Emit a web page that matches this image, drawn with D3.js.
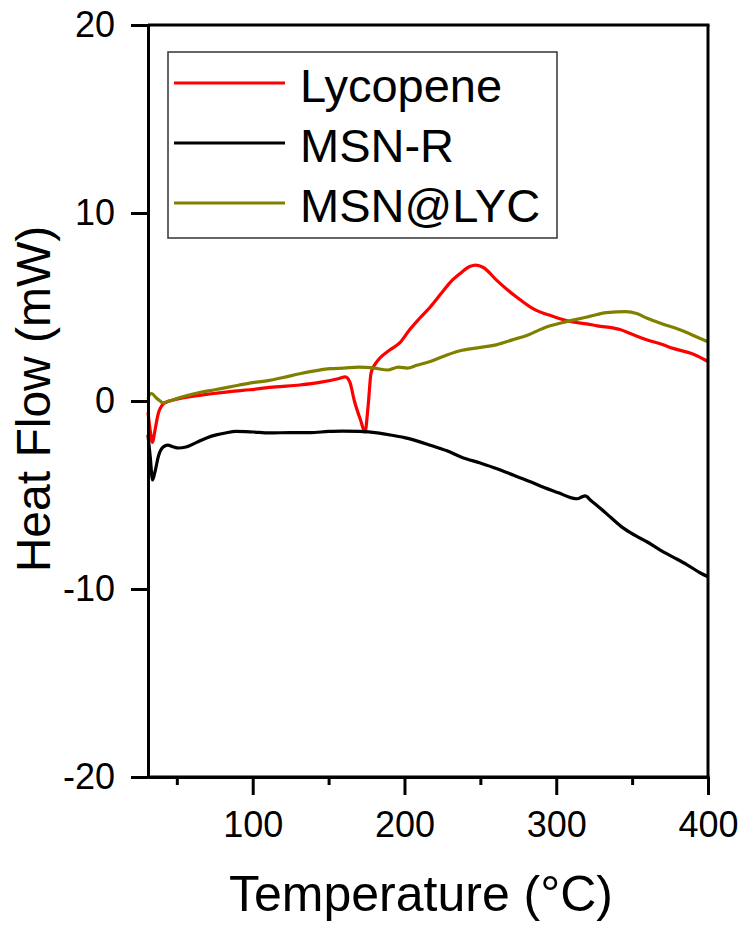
<!DOCTYPE html>
<html>
<head>
<meta charset="utf-8">
<script src="https://cdn.jsdelivr.net/npm/d3@7"></script>
<style>
  html, body { margin: 0; padding: 0; background: #fff; }
  svg { display: block; }
  text { font-family: Arial, "Liberation Sans", sans-serif; fill: #000; }
</style>
</head>
<body>
<svg id="chart" width="745" height="926"></svg>
<script>
// DSC traces: [temperature (°C), heat flow (mW)]
const lycopene = [
  [31,-0.6],[32.5,-1.6],[34,-2.2],[35.5,-1.6],[38,-0.6],[42,-0.1],[50,0.1],[65,0.3],
  [85,0.5],[98,0.6],[115,0.75],[131,0.85],[145,1.0],[157,1.2],[161,1.28],[164,1.0],
  [167,0.0],[171,-1.0],[174,-1.65],[176,-0.3],[178,1.5],[181,2.0],[184,2.3],[190,2.7],
  [197,3.1],[203.5,3.8],[210,4.4],[217,5.0],[224,5.7],[230,6.3],[237,6.8],[243,7.15],
  [247,7.23],[252,7.1],[261,6.4],[268,5.9],[276,5.4],[285,4.9],[298,4.5],[311,4.2],
  [320,4.1],[327,4.0],[342,3.8],[350,3.55],[360,3.25],[370,3.0],[377,2.8],[390,2.5],[400,2.1]
];
const msnR = [
  [31,-1.8],[32.5,-3.0],[34,-4.2],[35.5,-3.8],[38,-2.9],[41,-2.45],[44,-2.35],[48,-2.45],
  [51,-2.5],[56,-2.45],[63,-2.2],[70,-1.95],[76,-1.8],[82,-1.7],[89,-1.62],[100,-1.65],
  [111,-1.7],[125,-1.68],[138,-1.68],[150,-1.62],[159,-1.6],[170,-1.62],[182,-1.7],
  [190,-1.8],[200,-1.95],[217,-2.35],[228,-2.65],[238,-3.0],[250,-3.3],[261,-3.6],
  [272,-3.95],[283,-4.3],[292,-4.6],[302,-4.9],[310,-5.15],[314,-5.2],[317,-5.1],
  [319,-5.05],[323,-5.3],[329,-5.7],[336,-6.2],[344,-6.75],[352,-7.15],[360,-7.5],
  [368,-7.9],[377,-8.3],[386,-8.7],[395,-9.15],[400,-9.35]
];
const msnLyc = [
  [31,0.1],[32,0.35],[33.5,0.4],[36,0.2],[39,0.0],[41,-0.1],[45,0.0],[55,0.25],[65,0.45],
  [75,0.6],[85,0.75],[98,0.95],[111,1.1],[120,1.25],[131,1.45],[141,1.6],[151,1.72],
  [160,1.75],[170,1.8],[180,1.75],[189,1.65],[196,1.8],[202,1.75],[208,1.9],[217,2.1],
  [228,2.45],[238,2.7],[250,2.85],[261,3.0],[271,3.25],[281,3.5],[294,3.95],[303,4.15],
  [311,4.3],[322,4.5],[333,4.7],[346,4.75],[353,4.65],[360,4.4],[370,4.1],[381,3.8],
  [390,3.5],[400,3.15]
];

const seriesNames = ["Lycopene", "MSN-R", "MSN@LYC"];
const seriesColors = ["#ff0000", "#000000", "#808000"];
const seriesData = [lycopene, msnR, msnLyc];

const xDomain = [31, 400];
const yDomain = [-20, 20];
const xMajorTicks = [100, 200, 300, 400];
const xMinorTicks = [50, 150, 250, 350];
const yTicks = [-20, -10, 0, 10, 20];

const xTitle = "Temperature (°C)";
const yTitle = "Heat Flow (mW)";

const svg = d3.select("#chart");
const plot = { left: 148, right: 708, top: 25, bottom: 777 };

const x = d3.scaleLinear().domain(xDomain).range([plot.left, plot.right]);
const y = d3.scaleLinear().domain(yDomain).range([plot.bottom, plot.top]);

// data curves
const line = d3.line()
  .x(d => x(d[0]))
  .y(d => y(d[1]))
  .curve(d3.curveMonotoneX);

const curves = svg.append("g");
seriesData.forEach((data, i) => {
  curves.append("path")
    .datum(data)
    .attr("d", line)
    .attr("fill", "none")
    .attr("stroke", seriesColors[i])
    .attr("stroke-width", 3.2)
    .attr("stroke-linejoin", "round");
});

// frame: top and right edges
const frame = svg.append("g").attr("stroke", "#000").attr("stroke-width", 3);
frame.append("line")
  .attr("x1", plot.left).attr("x2", plot.right + 1.5)
  .attr("y1", plot.top).attr("y2", plot.top);
frame.append("line")
  .attr("x1", plot.right).attr("x2", plot.right)
  .attr("y1", plot.top).attr("y2", plot.bottom);

// axes; labels use a plain hyphen for negatives
const plainFormat = d => String(d);

function styleAxis(g) {
  g.select(".domain").attr("stroke-width", 3);
  g.selectAll(".tick line").attr("stroke-width", 3);
  g.selectAll(".tick text")
    .style("font-family", "Arial, 'Liberation Sans', sans-serif")
    .style("font-size", "36px")
    .attr("fill", "#000");
}

const xAxis = svg.append("g")
  .attr("transform", `translate(0,${plot.bottom})`)
  .call(d3.axisBottom(x).tickValues(xMajorTicks).tickFormat(plainFormat)
    .tickSize(18).tickPadding(16).tickSizeOuter(0));
styleAxis(xAxis);

const xMinor = svg.append("g")
  .attr("transform", `translate(0,${plot.bottom})`)
  .call(d3.axisBottom(x).tickValues(xMinorTicks).tickSize(8).tickFormat("").tickSizeOuter(0));
styleAxis(xMinor);
xMinor.select(".domain").remove();

const yAxis = svg.append("g")
  .attr("transform", `translate(${plot.left},0)`)
  .call(d3.axisLeft(y).tickValues(yTicks).tickFormat(plainFormat)
    .tickSize(17).tickPadding(16).tickSizeOuter(0));
styleAxis(yAxis);

// extend the bottom axis line over the frame corner
svg.append("line")
  .attr("x1", plot.left).attr("x2", plot.right + 1.5)
  .attr("y1", plot.bottom).attr("y2", plot.bottom)
  .attr("stroke", "#000").attr("stroke-width", 3);

// axis titles
svg.append("text")
  .attr("x", (plot.left + plot.right) / 2 - 7)
  .attr("y", 911)
  .attr("text-anchor", "middle")
  .style("font-size", "50px")
  .text(xTitle);

svg.append("text")
  .attr("transform", `translate(50,399) rotate(-90)`)
  .attr("text-anchor", "middle")
  .style("font-size", "48px")
  .text(yTitle);

// legend
const legend = svg.append("g");
legend.append("rect")
  .attr("x", 168).attr("y", 52)
  .attr("width", 389).attr("height", 186)
  .attr("fill", "#fff")
  .attr("stroke", "#333")
  .attr("stroke-width", 1.5);

seriesNames.forEach((name, i) => {
  const ly = 83 + i * 60;
  legend.append("line")
    .attr("x1", 174).attr("x2", 285)
    .attr("y1", ly).attr("y2", ly)
    .attr("stroke", seriesColors[i])
    .attr("stroke-width", 3);
  legend.append("text")
    .attr("x", 300).attr("y", ly + 19)
    .style("font-size", "47px")
    .text(name);
});
</script>
</body>
</html>
